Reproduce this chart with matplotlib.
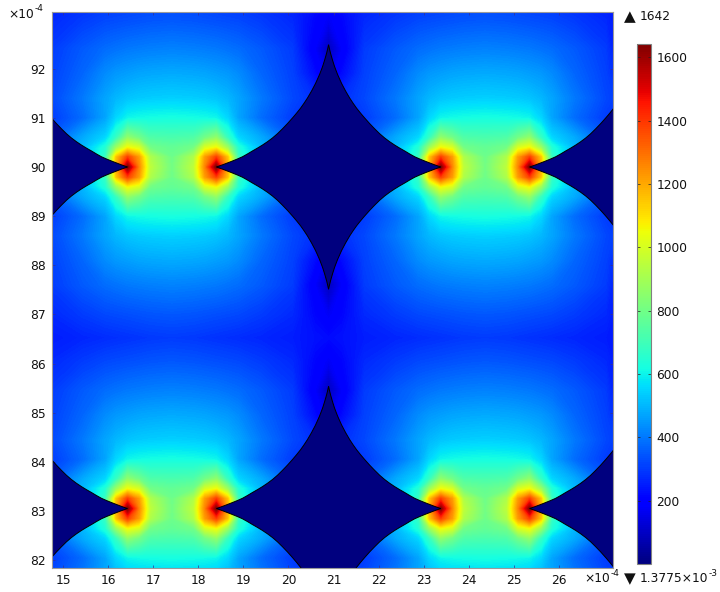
import numpy as np
import matplotlib
matplotlib.use("Agg")
import matplotlib.pyplot as plt
from matplotlib.cm import ScalarMappable
from matplotlib.colors import Normalize
from matplotlib.patches import Polygon

W, H = 720, 592
# --- values ---
x_ticks = list(range(15, 27))
y_ticks = list(range(82, 93))
cbar_ticks = [200, 400, 600, 800, 1000, 1200, 1400, 1600]
v_max = 1642
x_lim = (14.76, 27.19)
y_lim = (81.84, 93.16)

# star-shaped inclusions: centres and one quarter boundary (offsets from the tip)
star_cx = [13.94, 20.89, 27.84]
star_cy = [83.05, 90.0]
arc_dx = [0, 0.133, 0.244, 0.356, 0.467, 0.578, 0.689, 0.8, 0.911, 1.022, 1.133, 1.244, 1.356, 1.467, 1.578,
          1.689, 1.778, 1.867, 1.944, 2.022, 2.111, 2.2, 2.289, 2.356, 2.4, 2.444, 2.467, 2.489]
arc_dy = [0, 0.043, 0.082, 0.122, 0.163, 0.208, 0.265, 0.326, 0.384, 0.446, 0.514, 0.59, 0.678, 0.778, 0.884,
          0.998, 1.094, 1.196, 1.296, 1.405, 1.545, 1.70, 1.882, 2.043, 2.17, 2.31, 2.395, 2.49]

# field samples for a quarter cell: offsets from the star centre (x) and the band centre (y)
cell_x = [0, 0.3, 0.8, 1.5, 2.0, 2.24, 2.49, 2.74, 2.99, 3.475]
cell_y = [0, 0.2, 0.4, 0.6, 1.0, 1.4, 1.9, 2.4, 3.0, 3.475]
row_00 = [300, 300, 350, 500, 650, 1200, 1640, 1260, 950, 800]
row_02 = [300, 300, 350, 500, 680, 1150, 1380, 1220, 920, 790]
row_04 = [300, 300, 380, 500, 640, 880, 1050, 1000, 800, 770]
row_06 = [280, 300, 350, 480, 550, 680, 860, 800, 730, 720]
row_10 = [250, 260, 300, 380, 470, 550, 600, 610, 615, 620]
row_14 = [250, 280, 320, 400, 470, 500, 520, 530, 535, 540]
row_19 = [150, 220, 310, 370, 430, 450, 460, 470, 475, 480]
row_24 = [90, 180, 300, 350, 380, 390, 400, 405, 410, 415]
row_30 = [170, 210, 270, 300, 320, 325, 330, 335, 340, 345]
row_35 = [220, 230, 250, 265, 275, 280, 285, 290, 295, 300]

quarter = np.array([row_00, row_02, row_04, row_06, row_10, row_14, row_19, row_24, row_30, row_35], float)
cx = np.array(cell_x)
cy = np.array(cell_y)
period = 6.95

# tile the quarter cell across the two periods that are visible
half_x = np.concatenate([cx, (period - cx)[::-1][1:]])
half_v = np.hstack([quarter, quarter[:, ::-1][:, 1:]])
grid_x = np.concatenate([star_cx[0] + half_x, star_cx[1] + half_x[1:]])
band_v = np.hstack([half_v, half_v[:, 1:]])
off_y = np.concatenate([-cy[::-1], cy[1:]])
band_full = np.vstack([band_v[::-1], band_v[1:]])
grid_y = np.concatenate([star_cy[0] + off_y, star_cy[1] + off_y[1:]])
grid_v = np.vstack([band_full, band_full[1:]])

fig = plt.figure(figsize=(W / 100, H / 100), dpi=100)
fs = 8.8
ax = fig.add_axes([52.3 / W, 1 - 568 / H, (612.5 - 52.3) / W, (568 - 11.7) / H])
levels = np.linspace(0, v_max, 257)
cf = ax.contourf(grid_x, grid_y, grid_v, levels=levels, cmap="jet", vmin=0, vmax=v_max, extend="both", antialiased=False)

adx = np.array(arc_dx)
ady = np.array(arc_dy)
rx = adx - adx[-1]
for yc in star_cy:
    for xc in star_cx:
        px = np.concatenate([rx, -rx[::-1], -rx, rx[::-1]]) + xc
        py = np.concatenate([ady, ady[::-1], -ady, -ady[::-1]]) + yc
        ax.add_patch(Polygon(np.c_[px, py], closed=True, fc="#00007f", ec="black", lw=0.7, zorder=3))

ax.set_xlim(x_lim)
ax.set_ylim(y_lim)
ax.set_xticks(x_ticks)
ax.set_yticks(y_ticks)
ax.tick_params(direction="in", length=2.5, width=0.5, color="#30309a", labelsize=fs, labelcolor="#111111",
               top=True, right=True, pad=4.5)
for s in ax.spines.values():
    s.set_color("#9a9a9a")
    s.set_linewidth(0.8)
    s.set_zorder(5)

# colour bar
cax = fig.add_axes([637 / W, 1 - 564 / H, 14 / W, 520 / H])
sm = ScalarMappable(norm=Normalize(0, v_max), cmap="jet")
cb = fig.colorbar(sm, cax=cax, ticks=cbar_ticks)
cb.ax.tick_params(direction="in", length=2, width=0.5, color="#222222", labelsize=fs, labelcolor="#111111", pad=4, left=True)
cb.outline.set_edgecolor("#808080")
cb.outline.set_linewidth(0.8)

def px_text(x, y, s, **kw):
    fig.text(x / W, 1 - y / H, s, fontsize=kw.pop("fontsize", fs), color="#111111", va="center", **kw)

px_text(8, 15, "\u00d710")
px_text(34.5, 8.5, "-4", fontsize=6.5)
px_text(584, 579, "\u00d710")
px_text(610.5, 573, "-4", fontsize=6.5)
px_text(623.5, 16.5, "\u25b2", fontsize=11)
px_text(640, 17, f"{v_max}")
px_text(623.5, 578.5, "\u25bc", fontsize=11)
px_text(640, 579, "1.3775\u00d710")
px_text(709, 573, "-3", fontsize=6.5)

fig.savefig("out.png", dpi=100)
